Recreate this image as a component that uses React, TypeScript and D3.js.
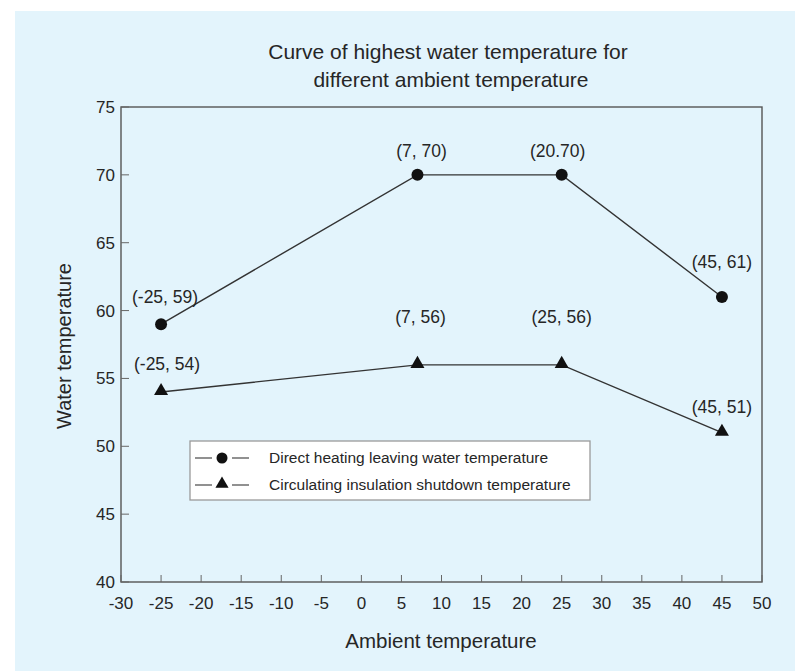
import React from "react";
import * as d3 from "d3";

const xTicks = [-30, -25, -20, -15, -10, -5, 0, 5, 10, 15, 20, 25, 30, 35, 40, 45, 50];
const yTicks = [40, 45, 50, 55, 60, 65, 70, 75];

const ambient = [-25, 7, 25, 45];
const directHeating = [59, 70, 70, 61];
const circulating = [54, 56, 56, 51];
const directLabels = ["(-25, 59)", "(7, 70)", "(20.70)", "(45, 61)"];
const circLabels = ["(-25, 54)", "(7, 56)", "(25, 56)", "(45, 51)"];
const seriesNames = ["Direct heating leaving water temperature", "Circulating insulation shutdown temperature"];

const directLabelOffsets = [[4, -21], [4, -18], [-4, -18], [0, -29]];
const circLabelOffsets = [[6, -22], [3, -42], [0, -42], [0, -20]];

const W = 795, H = 671;
const M = { left: 121, right: 762, top: 107, bottom: 582 };
const FONT = "'Liberation Sans', Arial, sans-serif";
const INK = "#262626";

export default function App() {
  const x = d3.scaleLinear().domain([-30, 50]).range([M.left, M.right]);
  const y = d3.scaleLinear().domain([40, 75]).range([M.bottom, M.top]);
  const line = d3.line<number>().x((_, i) => x(ambient[i])).y((d) => y(d));
  const tri = d3.symbol().type(d3.symbolTriangle).size(85)();
  const legendTri = d3.symbol().type(d3.symbolTriangle).size(75)();

  return (
    <svg width={W} height={H} style={{ position: "absolute", left: 0, top: 0, display: "block" }}>
      <rect x={0} y={0} width={W} height={H} fill="#ffffff" />
      <rect x={15} y={11} width={W - 15} height={H - 11} fill="#e3f4fc" />
      <g fontFamily={FONT} fill={INK}>
        <text x={448} y={59} textAnchor="middle" fontSize={21}>Curve of highest water temperature for</text>
        <text x={451} y={87} textAnchor="middle" fontSize={21}>different ambient temperature</text>
      </g>
      {/* frame */}
      <rect x={M.left} y={M.top} width={M.right - M.left} height={M.bottom - M.top} fill="none" stroke="#555" strokeWidth={1.4} />
      {/* ticks */}
      {xTicks.map((t) => (
        <g key={"x" + t}>
          <line x1={x(t)} x2={x(t)} y1={M.bottom} y2={M.bottom - 7} stroke="#666" strokeWidth={1} />
          <text x={x(t)} y={M.bottom + 27} textAnchor="middle" fontFamily={FONT} fontSize={17} fill={INK}>{t}</text>
        </g>
      ))}
      {yTicks.map((t) => (
        <g key={"y" + t}>
          <line x1={M.left} x2={M.left + 8} y1={y(t)} y2={y(t)} stroke="#666" strokeWidth={1} />
          <text x={M.left - 6} y={y(t) + 6} textAnchor="end" fontFamily={FONT} fontSize={17} fill={INK}>{t}</text>
        </g>
      ))}
      <text x={441} y={648} textAnchor="middle" fontFamily={FONT} fontSize={20.5} fill={INK}>Ambient temperature</text>
      <text transform={`translate(71,346) rotate(-90)`} textAnchor="middle" fontFamily={FONT} fontSize={20} fill={INK}>Water temperature</text>
      {/* series */}
      <path d={line(directHeating) || ""} fill="none" stroke="#333" strokeWidth={1.4} />
      <path d={line(circulating) || ""} fill="none" stroke="#333" strokeWidth={1.4} />
      {directHeating.map((v, i) => (
        <circle key={"c" + i} cx={x(ambient[i])} cy={y(v)} r={6} fill="#111" />
      ))}
      {circulating.map((v, i) => (
        <path key={"t" + i} d={tri || ""} transform={`translate(${x(ambient[i])},${y(v) - 1})`} fill="#111" />
      ))}
      {directHeating.map((v, i) => (
        <text key={"dl" + i} x={x(ambient[i]) + directLabelOffsets[i][0]} y={y(v) + directLabelOffsets[i][1]} textAnchor="middle" fontFamily={FONT} fontSize={17.5} fill={INK}>{directLabels[i]}</text>
      ))}
      {circulating.map((v, i) => (
        <text key={"cl" + i} x={x(ambient[i]) + circLabelOffsets[i][0]} y={y(v) + circLabelOffsets[i][1]} textAnchor="middle" fontFamily={FONT} fontSize={17.5} fill={INK}>{circLabels[i]}</text>
      ))}
      {/* legend */}
      <g>
        <rect x={190} y={441} width={400} height={59} fill="#ffffff" stroke="#9a9a9a" strokeWidth={1.3} />
        {seriesNames.map((name, i) => {
          const ly = 458 + i * 27;
          return (
            <g key={name}>
              <line x1={195} x2={212} y1={ly} y2={ly} stroke="#555" strokeWidth={1.3} />
              <line x1={232} x2={249} y1={ly} y2={ly} stroke="#555" strokeWidth={1.3} />
              {i === 0 ? (
                <circle cx={222} cy={ly} r={5.5} fill="#111" />
              ) : (
                <path d={legendTri || ""} transform={`translate(222,${ly - 1})`} fill="#111" />
              )}
              <text x={269} y={ly + 5} fontFamily={FONT} fontSize={15.5} fill={INK}>{name}</text>
            </g>
          );
        })}
      </g>
    </svg>
  );
}
